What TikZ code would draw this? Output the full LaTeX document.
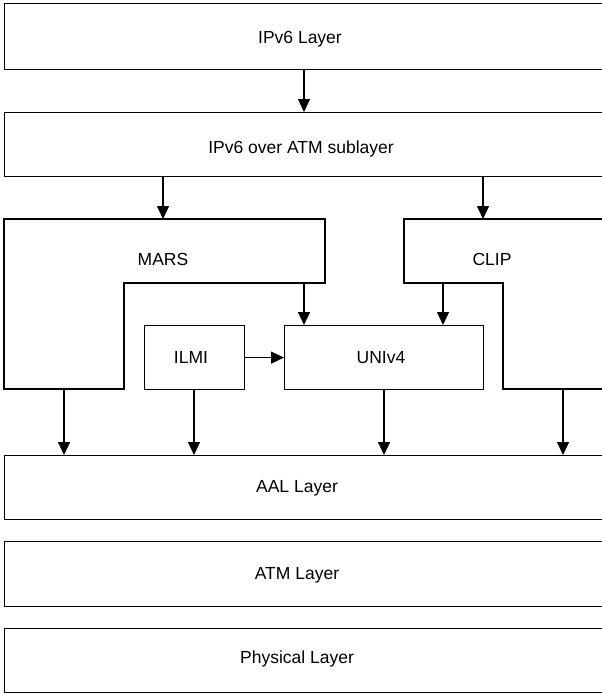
\documentclass[tikz,border=0pt]{standalone}
\usepackage{fontspec}
\setmainfont{Liberation Sans}
\usetikzlibrary{arrows.meta}
\begin{document}
\begin{tikzpicture}[x=1pt,y=-1pt,
  box/.style={draw=black, line width=1.2pt, rectangle, inner sep=0pt, anchor=north west},
  lbl/.style={font=\fontsize{17.5pt}{20pt}\selectfont, text height=12.5pt, text depth=0pt, inner sep=0pt},
  arr/.style={line width=1.2pt, -{Triangle[length=13pt,width=12pt]}},
  shp/.style={draw=black, line width=1.2pt, line join=miter}]
\useasboundingbox (0,0) rectangle (602,694);
\clip (0,0) rectangle (602,694);
% layer boxes
\node[box, minimum width=640pt, minimum height=66pt] (L1) at (4,3) {};
\node[box, minimum width=640pt, minimum height=64pt] (L2) at (4,112) {};
\node[box, minimum width=640pt, minimum height=64pt] (AAL) at (4,455) {};
\node[box, minimum width=640pt, minimum height=65pt] (ATM) at (4,541) {};
\node[box, minimum width=640pt, minimum height=64pt] (PHY) at (4,628) {};
\node[lbl] (tL1) at (300,37) {IPv6 Layer};
\node[lbl] (tL2) at (301,147) {IPv6 over ATM sublayer};
\node[lbl] (tAAL) at (297,486) {AAL Layer};
\node[lbl] (tATM) at (297,573) {ATM Layer};
\node[lbl] (tPHY) at (297,657) {Physical Layer};
% MARS and CLIP shapes
\draw[shp] (4,219) -- (325,219) -- (325,283) -- (124,283) -- (124,389) -- (4,389) -- cycle;
\draw[shp] (640,219) -- (404,219) -- (404,283) -- (503,283) -- (503,389) -- (640,389);
\node[lbl] (tMARS) at (163,259) {MARS};
\node[lbl] (tCLIP) at (492,259) {CLIP};
\coordinate (marsTop) at (163,219);
\coordinate (clipTop) at (483,219);
\coordinate (marsStep) at (304,283);
\coordinate (clipStep) at (443,283);
\coordinate (marsBot) at (64,389);
\coordinate (clipBot) at (563,389);
% ILMI and UNIv4
\node[box, minimum width=100pt, minimum height=64pt] (ILMI) at (144,325) {};
\node[box, minimum width=199pt, minimum height=64pt] (UNI) at (284,325) {};
\node[lbl] (tILMI) at (191,357) {ILMI};
\node[lbl] (tUNI) at (381,357) {UNIv4};
% connectors
\coordinate (xa) at (304,0);
\draw[arr] (L1.south -| xa) -- (L2.north -| xa);
\draw[arr] (L2.south -| marsTop) -- (marsTop);
\draw[arr] (L2.south -| clipTop) -- (clipTop);
\draw[arr] (marsStep) -- (UNI.north -| marsStep);
\draw[arr] (clipStep) -- (UNI.north -| clipStep);
\draw[arr] (ILMI.east) -- (UNI.west);
\coordinate (xi) at (194,0);
\coordinate (xu) at (384,0);
\draw[arr] (marsBot) -- (AAL.north -| marsBot);
\draw[arr] (ILMI.south -| xi) -- (AAL.north -| xi);
\draw[arr] (UNI.south -| xu) -- (AAL.north -| xu);
\draw[arr] (clipBot) -- (AAL.north -| clipBot);
\end{tikzpicture}
\end{document}
